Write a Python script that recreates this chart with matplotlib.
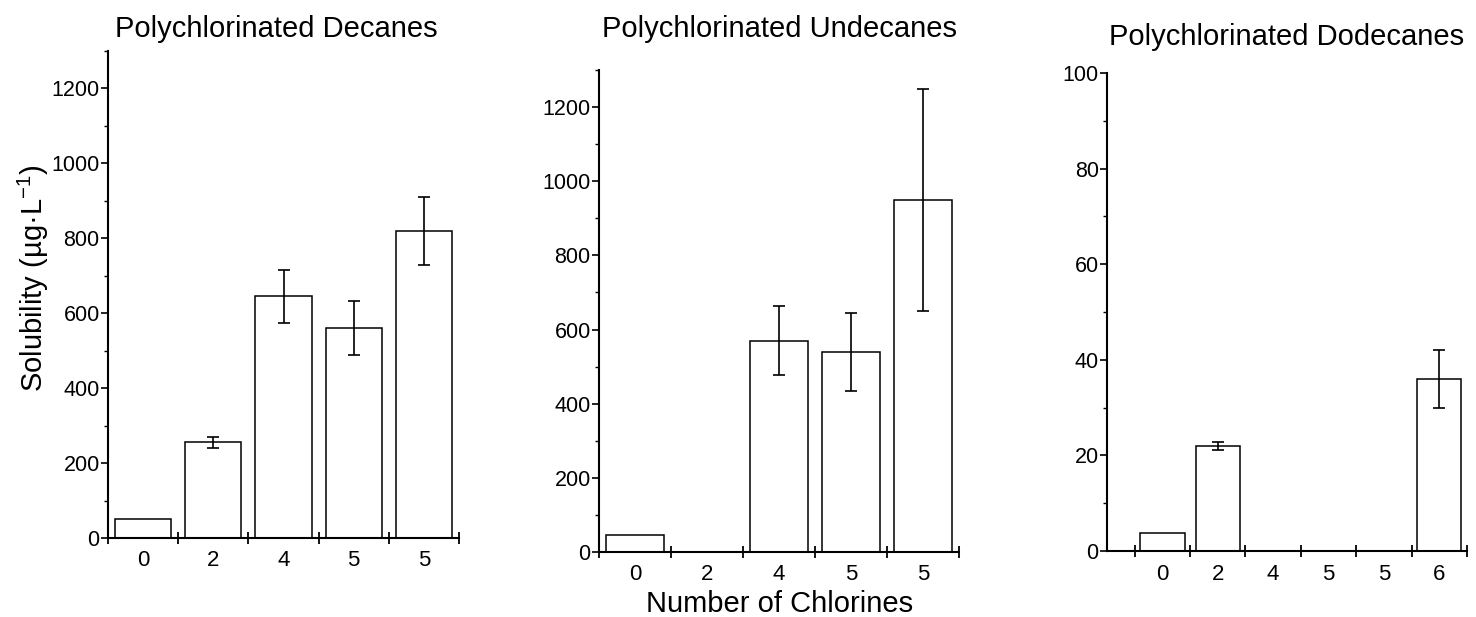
import numpy as np
import matplotlib
matplotlib.use("Agg")
import matplotlib.pyplot as plt
from matplotlib.ticker import MultipleLocator, FixedLocator

plt.rcParams['font.family'] = ['Liberation Sans', 'DejaVu Sans']
plt.rcParams['mathtext.fontset'] = 'custom'
plt.rcParams['mathtext.rm'] = 'Liberation Sans'

# data
decane_labels = ["0", "2", "4", "5", "5"]
decane_vals = [50, 255, 645, 560, 820]
decane_err = [0, 15, 70, 72, 90]

undecane_labels = ["0", "2", "4", "5", "5"]
undecane_vals = [45, 0, 570, 540, 950]
undecane_err = [0, 0, 93, 105, 300]

dodecane_labels = ["0", "2", "4", "5", "5", "6"]
dodecane_vals = [3.7, 22, 0, 0, 0, 36]
dodecane_err = [0, 0.9, 0, 0, 0, 6]

titles = ["Polychlorinated Decanes", "Polychlorinated Undecanes",
          "Polychlorinated Dodecanes"]

W, H = 1476, 617
fig = plt.figure(figsize=(W / 100, H / 100), dpi=100)


def px_rect(left, right, top, bottom):
    return [left / W, 1 - bottom / H, (right - left) / W, (bottom - top) / H]


def draw_panel(ax, labels, vals, errs, ymax, major, minor, xlo):
    x = np.arange(len(vals))
    ax.bar(x, vals, width=0.8, color="white", edgecolor="black", linewidth=1.1)
    for xi, v, e in zip(x, vals, errs):
        if e > 0:
            ax.errorbar(xi, v, yerr=e, fmt="none", ecolor="black",
                        elinewidth=1.2, capsize=4.5, capthick=1.2)
    ax.set_xlim(xlo, len(vals) - 0.5)
    ax.set_ylim(0, ymax)
    ax.spines["top"].set_visible(False)
    ax.spines["right"].set_visible(False)
    ax.spines["left"].set_linewidth(1.5)
    ax.spines["bottom"].set_linewidth(1.5)
    ax.set_xticks(x)
    ax.set_xticklabels(labels, fontsize=16)
    ax.xaxis.set_minor_locator(FixedLocator(np.arange(len(vals) + 1) - 0.5))
    ax.tick_params(axis="x", which="major", length=0, pad=9)
    ax.tick_params(axis="x", which="minor", direction="inout", length=8, width=1.3)
    ax.yaxis.set_major_locator(MultipleLocator(major))
    ax.yaxis.set_minor_locator(MultipleLocator(minor))
    ax.tick_params(axis="y", which="major", direction="out", length=5, width=1.2,
                   pad=1, labelsize=15.5)
    ax.tick_params(axis="y", which="minor", direction="out", length=3, width=1.0)


ax1 = fig.add_axes(px_rect(108, 459, 51, 538))
draw_panel(ax1, decane_labels, decane_vals, decane_err, 1300, 200, 100, -0.5)
ax2 = fig.add_axes(px_rect(599, 959, 70, 552))
draw_panel(ax2, undecane_labels, undecane_vals, undecane_err, 1300, 200, 100, -0.5)
ax3 = fig.add_axes(px_rect(1107, 1467, 73, 551))
draw_panel(ax3, dodecane_labels, dodecane_vals, dodecane_err, 100, 20, 10, -1.0)

fig.text(276 / W, 1 - 37 / H, titles[0], ha="center", va="baseline", fontsize=21)
fig.text(779 / W, 1 - 37 / H, titles[1], ha="center", va="baseline", fontsize=21)
fig.text(1287 / W, 1 - 45 / H, titles[2], ha="center", va="baseline", fontsize=21)

fig.text(33 / W, 1 - 278 / H, r"Solubility (µg·L$^{\mathregular{-1}}$)", rotation=90,
         ha="center", va="center", fontsize=21)
fig.text(780 / W, 1 - 612 / H, "Number of Chlorines", ha="center",
         va="baseline", fontsize=21)

fig.savefig("out.png", dpi=100)
